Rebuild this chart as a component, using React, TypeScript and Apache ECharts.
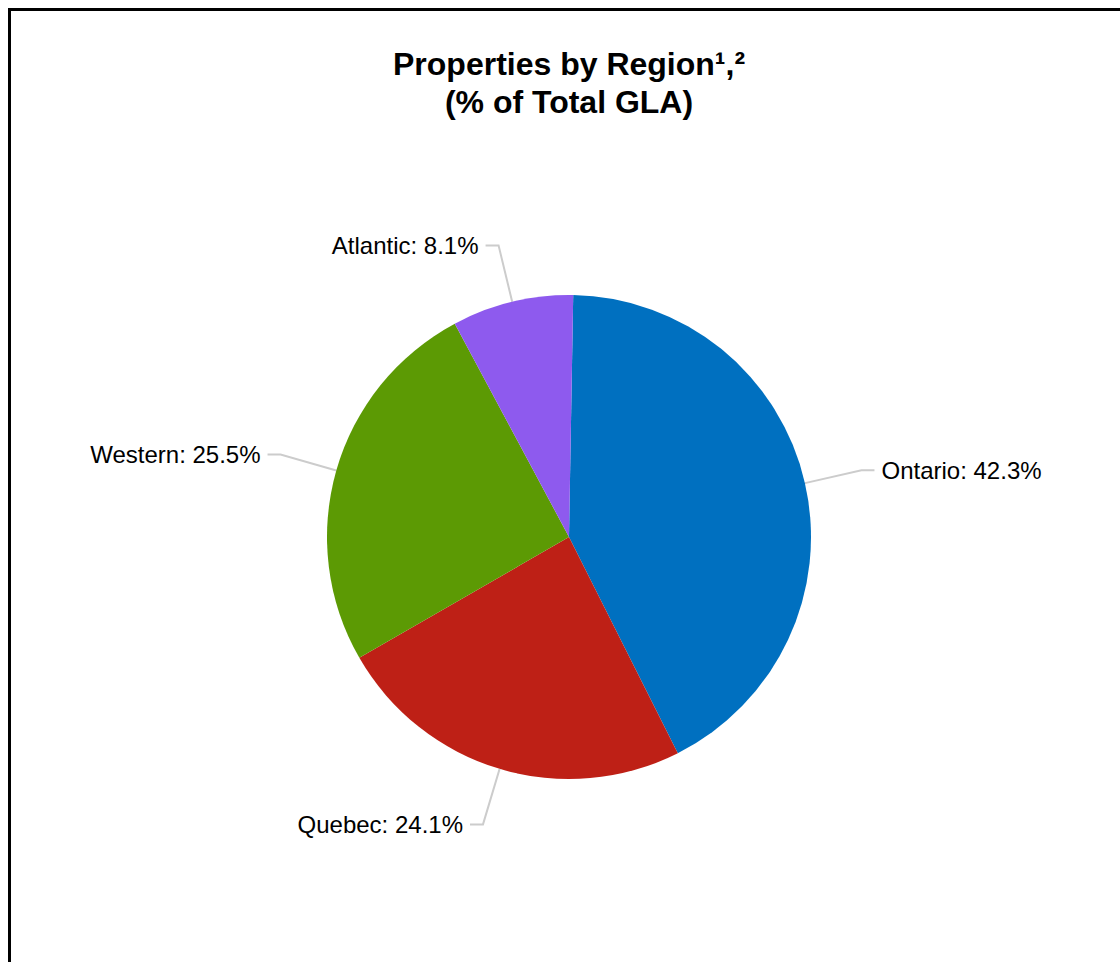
import React, { useEffect, useRef } from "react";
import * as echarts from "echarts";

const categories = ["Ontario", "Quebec", "Western", "Atlantic"];
const values = [42.3, 24.1, 25.5, 8.1];
const colors = ["#0070C0", "#BE2016", "#5C9A04", "#8E5AEE"];
const titleLines = ["Properties by Region\u00b9,\u00b2", "(% of Total GLA)"];

export default function App() {
  const ref = useRef<HTMLDivElement>(null);
  useEffect(() => {
    if (!ref.current) return;
    const chart = echarts.init(ref.current, null, { renderer: "svg" });
    chart.setOption({
      animation: false,
      backgroundColor: "#ffffff",
      title: {
        text: titleLines.join("\n"),
        left: "center",
        top: 34,
        padding: 0,
        textStyle: {
          fontFamily: "'Liberation Sans', Arial, sans-serif",
          fontSize: 32,
          fontWeight: "bold",
          color: "#000000",
          lineHeight: 38,
        },
      },
      series: [
        {
          type: "pie",
          center: [558, 526],
          radius: 242,
          startAngle: 89,
          clockwise: true,
          avoidLabelOverlap: false,
          data: categories.map((name, i) => ({
            name,
            value: values[i],
            itemStyle: { color: colors[i] },
          })),
          label: {
            show: true,
            position: "outside",
            formatter: (p: any) => `${p.name}: ${p.value.toFixed(1)}%`,
            fontFamily: "'Liberation Sans', Arial, sans-serif",
            fontSize: 24,
            color: "#000000",
            distanceToLabelLine: 7,
          },
          labelLine: {
            show: true,
            length: 58,
            length2: 13,
            smooth: false,
            lineStyle: { color: "#cccccc", width: 2 },
          },
          emphasis: { disabled: true },
        },
      ],
    });
    return () => chart.dispose();
  }, []);
  return (
    <div
      style={{
        position: "fixed",
        top: 8,
        left: 8,
        borderTop: "3px solid #000",
        borderLeft: "3px solid #000",
        width: 1109,
        height: 951,
        overflow: "hidden",
        background: "#fff",
      }}
    >
      <div ref={ref} style={{ width: 1116, height: 951 }} />
    </div>
  );
}
